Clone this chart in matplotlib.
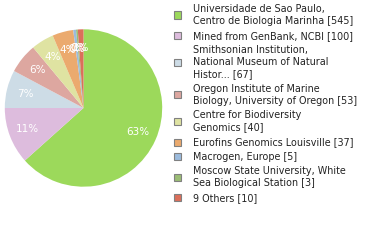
import matplotlib
matplotlib.use("Agg")
import matplotlib.pyplot as plt
from matplotlib.patches import Rectangle

# slice data (clockwise from 12 o'clock)
labels = ["Universidade de Sao Paulo,\nCentro de Biologia Marinha [545]",
          "Mined from GenBank, NCBI [100]",
          "Smithsonian Institution,\nNational Museum of Natural\nHistor... [67]",
          "Oregon Institute of Marine\nBiology, University of Oregon [53]",
          "Centre for Biodiversity\nGenomics [40]",
          "Eurofins Genomics Louisville [37]",
          "Macrogen, Europe [5]",
          "Moscow State University, White\nSea Biological Station [3]",
          "9 Others [10]"]
counts = [545, 100, 67, 53, 40, 37, 5, 3, 10]
colors = ["#9cd95b", "#ddbcdd", "#cddce6", "#dda7a0", "#dfe3a2",
          "#ebaa6e", "#9bbbdd", "#9bbd75", "#db6f5a"]

W, H = 380, 240
fig = plt.figure(figsize=(W / 100, H / 100), dpi=100)

# pie placed by pixel geometry
cx, cy, r = 83.5, 108, 78.7
ax = fig.add_axes([(cx - r) / W, (H - cy - r) / H, 2 * r / W, 2 * r / H])


def pct(p):
    return "%d%%" % int(p)  # truncated like the source


wedges, texts, autotexts = ax.pie(counts, colors=colors, startangle=90, counterclock=False,
                                  autopct=pct, pctdistance=0.76, radius=1,
                                  textprops=dict(color="white", fontsize=7.5))
ax.set_xlim(-1, 1)
ax.set_ylim(-1, 1)
ax.set_aspect("equal")
ax.axis("off")

# legend drawn by hand
y = 9
lh = 12
gap = 2.6
for lab, col in zip(labels, colors):
    n = lab.count("\n") + 1
    mid = y + (n - 1) * lh / 2
    fig.add_artist(Rectangle((174 / W, 1 - (mid + 3.5) / H), 7 / W, 7 / H,
                             transform=fig.transFigure, facecolor=col,
                             edgecolor="#808080", linewidth=0.8))
    for i, line in enumerate(lab.split("\n")):
        fig.text(193 / W, 1 - (y + i * lh) / H, line, fontsize=6.9,
                 color="#222222", va="center", ha="left")
    y += n * lh + gap

fig.savefig("out.png", dpi=100)
